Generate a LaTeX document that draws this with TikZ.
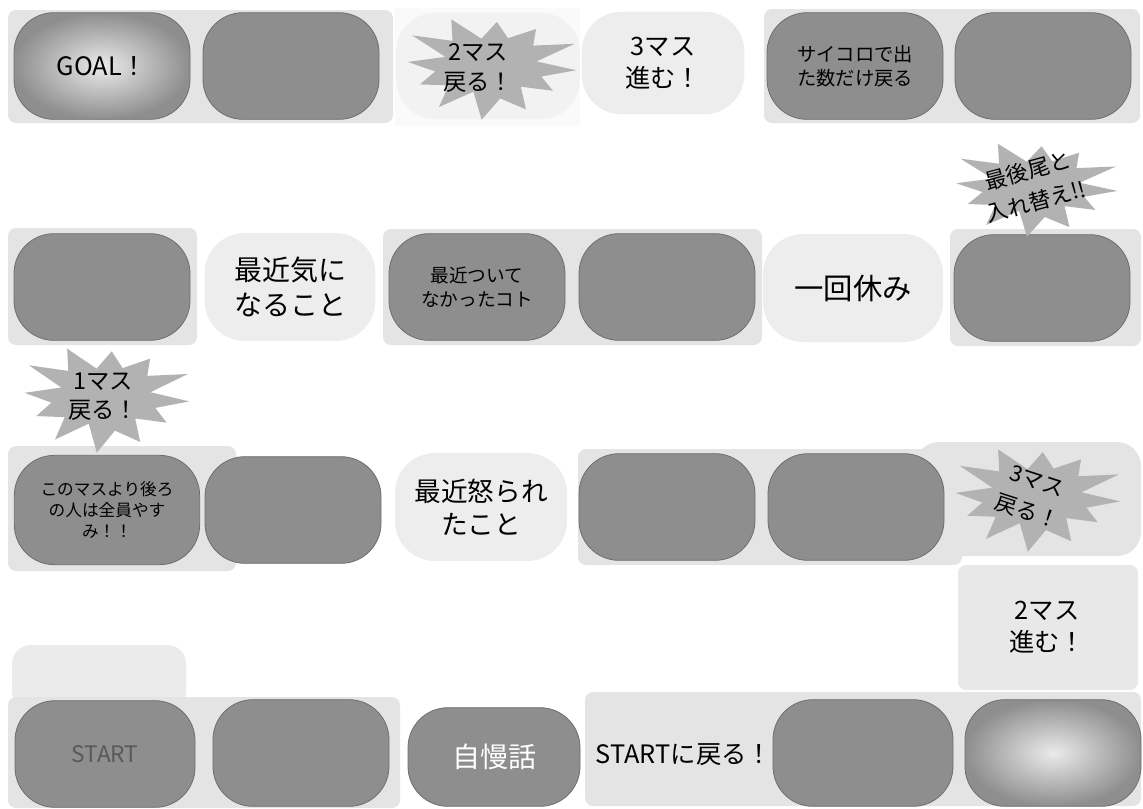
\documentclass[tikz,border=0pt]{standalone}
\usepackage{fontspec}
\setmainfont{Noto Sans CJK JP}
\usetikzlibrary{shapes.geometric}
\definecolor{band}{HTML}{E4E4E4}
\definecolor{lightpill}{HTML}{EDEDED}
\definecolor{darkpill}{HTML}{8E8E8E}
\definecolor{darkedge}{HTML}{6E6E6E}
\definecolor{burstc}{HTML}{B2B2B2}
\newcommand\fsz[1]{\fontsize{#1}{1.25\dimexpr#1pt\relax}\selectfont}
\newcommand\fszl[1]{\fontsize{#1}{1.45\dimexpr#1pt\relax}\selectfont}
\newcommand\myburst[4]{%
  \fill[burstc] plot[samples at={0,...,23}, variable=\k]
   ({#1+(mod(\k,2)==0?(0.9+0.1*sin(\k*137)):(0.55+0.06*cos(\k*71)))*#3*cos(15*\k+5)},
    {#2+(mod(\k,2)==0?(0.9+0.1*sin(\k*137)):(0.55+0.06*cos(\k*71)))*#4*sin(15*\k+5)}) -- cycle;}
\tikzset{
  tile/.style={rounded corners=30pt, minimum width=132pt, minimum height=80pt,
    inner sep=0pt, align=center},
  dark/.style={tile, fill=darkpill, draw=darkedge, line width=0.6pt},
  light/.style={tile, fill=lightpill},
  glow/.style={tile, draw=darkedge, line width=0.6pt, inner color=white!92!black, outer color=darkpill},
  bandbox/.style={fill=band, rounded corners=6pt},
  txt/.style={align=center, inner sep=0pt, text=black},
}
\begin{document}
\begin{tikzpicture}[x=0.75pt, y=-0.75pt]
\useasboundingbox (0,0) rectangle (1143,808);
% background bands
\fill[bandbox] (8,10) rectangle (393,123);
\fill[fill=black!2] (395,8) rectangle (580,126);
\fill[bandbox] (764,9) rectangle (1140,123);
\fill[bandbox] (8,228) rectangle (197,345);
\fill[bandbox] (383,229) rectangle (762,345);
\fill[bandbox] (950,229) rectangle (1141,346);
\fill[bandbox] (8,446) rectangle (236,571);
\fill[bandbox] (578,449) rectangle (962,565);
\fill[bandbox, rounded corners=18pt] (915,442) rectangle (1141,556);
\fill[bandbox, fill=black!9] (958,565) rectangle (1138,690);
\fill[bandbox, fill=black!8, rounded corners=14pt] (12,645) rectangle (186,710);
\fill[bandbox] (8,697) rectangle (400,808);
\fill[bandbox] (585,692) rectangle (1141,806);

% row 1
\node[glow, font=\fsz{19}] (goal) at (102,66) {GOAL！};
\node[dark] (r1b) at (291,66) {};
\node[tile, fill=black!5, minimum width=138pt] (r1c) at (488,66) {};
\myburst{490}{66}{96}{54}
\node[txt, font=\fsz{17.5}] (r1ct) at (478,68) {2マス\\戻る！};
\node[light, minimum width=122pt, minimum height=77pt, font=\fsz{19}] (r1d) at (663,63) {3マス\\進む！};
\node[dark, font=\fsz{14.5}] (r1e) at (855,66) {サイコロで出\\た数だけ戻る};
\node[dark] (r1f) at (1043,66) {};

% row 2
\node[dark] (r2a) at (102,287) {};
\node[light, minimum width=128pt, minimum height=81pt, font=\fsz{21}] (r2b) at (290,287) {最近気に\\なること};
\node[dark, font=\fsz{14}] (r2c) at (477,287) {最近ついて\\なかったコト};
\node[dark] (r2d) at (667,287) {};
\node[light, minimum width=135pt, minimum height=81pt, font=\fsz{22}] (r2e) at (853,288) {一回休み};
\node[dark] (r2f) at (1042,288) {};
\myburst{1035}{187}{92}{50}
\node[txt, rotate=15, font=\fszl{16.5}] (r2ft) at (1032,186) {最後尾と\\入れ替え!!};

% row 3
\myburst{105}{397}{94}{56}
\node[txt, font=\fsz{17.5}] (r3at) at (103,397) {1マス\\戻る！};
\node[dark, minimum width=139pt, minimum height=82pt, font=\fsz{12.5}] (r3a) at (107,510) {このマスより後ろ\\の人は全員やす\\み！！};
\node[dark] (r3b) at (293,510) {};
\node[light, minimum width=129pt, minimum height=81pt, font=\fsz{20}] (r3c) at (481,507) {最近怒られ\\たこと};
\node[dark] (r3d) at (667,507) {};
\node[dark] (r3e) at (856,507) {};
\myburst{1036}{497}{94}{55}
\node[txt, rotate=-18, font=\fszl{16.5}] (r3ft) at (1032,497) {3マス\\戻る！};
\node[txt, font=\fsz{19}] (r35) at (1047,627) {2マス\\進む！};

% row 4
\node[dark, minimum width=135pt, font=\fsz{17}, text=black!65] (start) at (105,754) {START};
\node[dark] (r4b) at (301,753) {};
\node[dark, minimum width=129pt, minimum height=74pt, font=\fsz{21}, text=white] (r4c) at (494,757) {自慢話};
\node[txt, font=\fsz{19}] (r4d) at (684,755) {STARTに戻る！};
\node[dark, minimum width=135pt] (r4e) at (863,753) {};
\node[glow] (r4f) at (1053,753) {};
\end{tikzpicture}
\end{document}
